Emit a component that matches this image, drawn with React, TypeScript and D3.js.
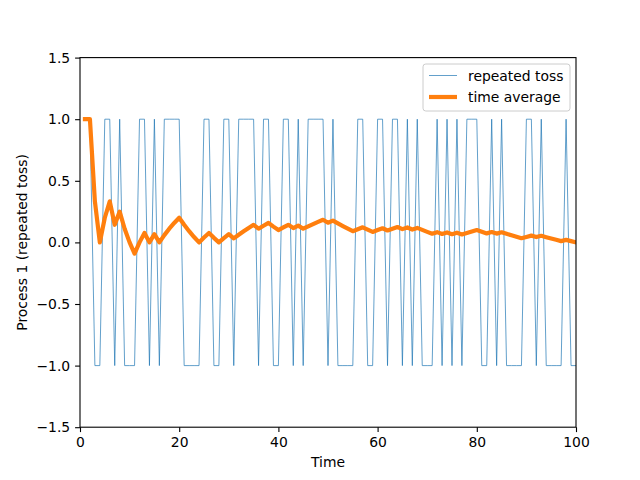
import React, { useEffect, useRef } from 'react';
import * as d3 from 'd3';

// Outcome of each toss (t = 1..100), +1 heads / -1 tails
const tosses: number[] = [
  1, 1, -1, -1, 1, 1, -1, 1, -1, -1,
  -1, 1, 1, -1, 1, -1, 1, 1, 1, 1,
  -1, -1, -1, -1, 1, 1, -1, -1, 1, 1,
  -1, 1, 1, 1, 1, -1, 1, 1, -1, -1,
  1, 1, -1, 1, -1, 1, 1, 1, 1, -1,
  1, -1, -1, -1, -1, 1, 1, -1, -1, 1,
  1, -1, 1, 1, -1, 1, -1, 1, -1, -1,
  -1, 1, -1, 1, -1, 1, -1, 1, 1, 1,
  -1, -1, 1, -1, 1, -1, -1, -1, -1, 1,
  1, -1, 1, -1, -1, -1, -1, 1, -1, -1,
];

const xTicks = [0, 20, 40, 60, 80, 100];
const yTicks = [-1.5, -1.0, -0.5, 0.0, 0.5, 1.0, 1.5];

const seriesNames = ['repeated toss', 'time average'];
const seriesColors = ['#1f77b4', '#ff7f0e'];

const W = 640;
const H = 480;
const margin = { left: 80, right: 64, top: 57.6, bottom: 52.8 };
const FONT = '"DejaVu Sans", sans-serif';
const FS = 13.9;

const App: React.FC = () => {
  const svgRef = useRef<SVGSVGElement>(null);

  useEffect(() => {
    if (!svgRef.current) return;
    const svg = d3.select(svgRef.current);
    svg.selectAll('*').remove();

    const x0 = margin.left;
    const x1 = W - margin.right;
    const y0 = H - margin.bottom;
    const y1 = margin.top;

    const x = d3.scaleLinear().domain([0, 100]).range([x0, x1]);
    const y = d3.scaleLinear().domain([-1.5, 1.5]).range([y0, y1]);

    const toss = tosses.map((v, i) => ({ t: i + 1, v }));
    // running mean of the tosses
    let sum = 0;
    const avg = tosses.map((v, i) => {
      sum += v;
      return { t: i + 1, v: sum / (i + 1) };
    });

    svg.append('defs').append('clipPath').attr('id', 'plot-clip')
      .append('rect')
      .attr('x', x0).attr('y', y1)
      .attr('width', x1 - x0).attr('height', y0 - y1);

    const line = d3.line<{ t: number; v: number }>()
      .x(d => x(d.t))
      .y(d => y(d.v));

    const plot = svg.append('g').attr('clip-path', 'url(#plot-clip)');

    plot.append('path')
      .datum(toss)
      .attr('d', line)
      .attr('fill', 'none')
      .attr('stroke', seriesColors[0])
      .attr('stroke-width', 0.7)
      .attr('stroke-linejoin', 'round');

    plot.append('path')
      .datum(avg)
      .attr('d', line)
      .attr('fill', 'none')
      .attr('stroke', seriesColors[1])
      .attr('stroke-width', 4.2)
      .attr('stroke-linejoin', 'round')
      .attr('stroke-linecap', 'square');

    // axes
    const xAxis = d3.axisBottom(x).tickValues(xTicks).tickFormat(d3.format('d'))
      .tickSize(4.9).tickPadding(4.9);
    const yAxis = d3.axisLeft(y).tickValues(yTicks).tickFormat(d3.format('.1f'))
      .tickSize(4.9).tickPadding(4.9);

    const gx = svg.append('g').attr('transform', `translate(0,${y0})`).call(xAxis);
    const gy = svg.append('g').attr('transform', `translate(${x0},0)`).call(yAxis);
    [gx, gy].forEach(g => {
      g.select('.domain').remove();
      g.selectAll('line').attr('stroke', '#000').attr('stroke-width', 1.1);
      g.selectAll('text')
        .attr('fill', '#000')
        .style('font-family', FONT)
        .style('font-size', `${FS}px`);
    });

    // frame
    svg.append('rect')
      .attr('x', x0).attr('y', y1)
      .attr('width', x1 - x0).attr('height', y0 - y1)
      .attr('fill', 'none')
      .attr('stroke', '#000')
      .attr('stroke-width', 1.1);

    // axis labels
    svg.append('text')
      .attr('x', (x0 + x1) / 2)
      .attr('y', 467)
      .attr('text-anchor', 'middle')
      .style('font-family', FONT)
      .style('font-size', `${FS}px`)
      .text('Time');

    svg.append('text')
      .attr('transform', `translate(27,${(y0 + y1) / 2}) rotate(-90)`)
      .attr('text-anchor', 'middle')
      .style('font-family', FONT)
      .style('font-size', `${FS}px`)
      .text('Process 1 (repeated toss)');

    // legend
    const lg = svg.append('g').attr('transform', 'translate(423,64)');
    lg.append('rect')
      .attr('width', 147).attr('height', 47)
      .attr('rx', 2.8)
      .attr('fill', 'rgba(255,255,255,0.8)')
      .attr('stroke', '#cccccc')
      .attr('stroke-width', 1);

    seriesNames.forEach((name, i) => {
      const ly = 11.5 + i * 21.5;
      lg.append('line')
        .attr('x1', 6).attr('x2', 34)
        .attr('y1', ly).attr('y2', ly)
        .attr('stroke', seriesColors[i])
        .attr('stroke-width', i === 0 ? 0.7 : 4.2);
      lg.append('text')
        .attr('x', 45)
        .attr('y', ly + 5)
        .style('font-family', FONT)
        .style('font-size', `${FS}px`)
        .text(name);
    });
  }, []);

  return (
    <svg
      ref={svgRef}
      width={W}
      height={H}
      style={{ position: 'absolute', left: 0, top: 0, background: '#fff' }}
    />
  );
};

export default App;
